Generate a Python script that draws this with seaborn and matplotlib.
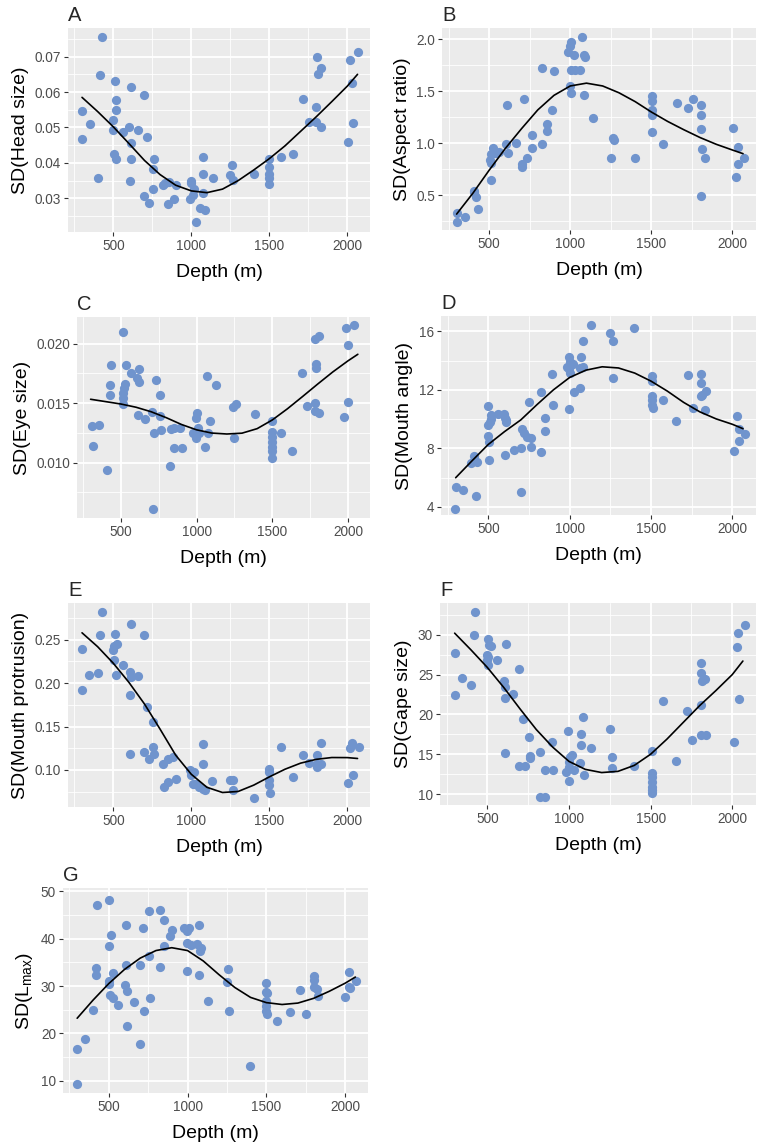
import matplotlib
matplotlib.use('Agg')
import matplotlib.pyplot as plt
import seaborn as sns
from matplotlib.ticker import FormatStrFormatter, MultipleLocator

# ---- data ----
curve_depth = [300, 400, 500, 600, 700, 800, 900, 1000, 1100, 1200, 1300,
               1400, 1500, 1600, 1700, 1800, 1900, 2000, 2065]

# A: head size
a_depth = [300, 302, 350, 400, 428, 415, 510, 520, 520, 500, 500, 505, 515, 560,
           600, 613, 613, 613, 606, 660, 695, 715, 698, 727, 759, 755, 757, 819,
           829, 850, 889, 899, 860, 999, 1000, 990, 1010, 1020, 1027, 1057, 1088,
           1074, 1078, 1074, 1137, 1258, 1248, 1265, 1399, 1500, 1500, 1500, 1500,
           1500, 1573, 1654, 1717, 1753, 1806, 1828, 1810, 1802, 1802, 1828, 2004,
           2019, 2030, 2034, 2068]
a_sd = [0.0547, 0.0467, 0.0511, 0.0356, 0.0755, 0.0648, 0.0632, 0.0577, 0.0549,
        0.0521, 0.0494, 0.0426, 0.0412, 0.0488, 0.0500, 0.0613, 0.0457, 0.0410,
        0.0349, 0.0492, 0.0593, 0.0474, 0.0307, 0.0287, 0.0410, 0.0382, 0.0325,
        0.0337, 0.0343, 0.0283, 0.0298, 0.0337, 0.0346, 0.0349, 0.0343, 0.0297,
        0.0308, 0.0327, 0.0233, 0.0273, 0.0268, 0.0417, 0.0370, 0.0316, 0.0358,
        0.0393, 0.0365, 0.0351, 0.0370, 0.0412, 0.0389, 0.0370, 0.0356, 0.0340,
        0.0417, 0.0426, 0.0579, 0.0516, 0.0698, 0.0667, 0.0651, 0.0557, 0.0516,
        0.0502, 0.0459, 0.0691, 0.0626, 0.0513, 0.0714]
a_curve = [0.0585, 0.0545, 0.0502, 0.0455, 0.0407, 0.0367, 0.0337, 0.0321, 0.0316,
           0.0326, 0.0350, 0.0380, 0.0412, 0.0448, 0.0489, 0.0530, 0.0573, 0.0617,
           0.0650]

# B: aspect ratio
b_depth = [304, 304, 353, 405, 421, 430, 410, 514, 504, 510, 514, 525, 535, 545,
           560, 607, 618, 612, 665, 700, 705, 717, 731, 762, 762, 824, 829, 855,
           860, 890, 903, 986, 1000, 1006, 1006, 1000, 1006, 1021, 1031, 1062, 1072,
           1083, 1093, 1083, 1140, 1254, 1264, 1269, 1399, 1506, 1506, 1506, 1506,
           1502, 1574, 1657, 1723, 1754, 1806, 1806, 1806, 1812, 1833, 1806, 2006,
           2023, 2033, 2033, 2074]
b_sd = [0.247, 0.333, 0.292, 0.545, 0.481, 0.369, 0.535, 0.894, 0.840, 0.647,
        0.808, 0.952, 0.904, 0.910, 0.920, 0.994, 0.904, 1.369, 1.000, 0.776,
        0.800, 1.423, 0.862, 0.958, 1.080, 1.721, 0.994, 1.186, 1.122, 1.321,
        1.689, 1.872, 1.929, 1.968, 1.705, 1.545, 1.487, 1.849, 1.705, 1.699,
        2.020, 1.850, 1.827, 1.465, 1.240, 0.862, 1.054, 1.032, 0.862, 1.458,
        1.410, 1.320, 1.270, 1.112, 0.994, 1.385, 1.337, 1.423, 1.369, 1.269,
        1.138, 0.946, 0.862, 0.497, 1.144, 0.673, 0.798, 0.965, 0.862]
b_curve = [0.32, 0.52, 0.74, 0.95, 1.14, 1.32, 1.46, 1.55, 1.577, 1.55, 1.485,
           1.40, 1.30, 1.21, 1.13, 1.055, 0.99, 0.935, 0.90]

# C: eye size
c_depth = [306, 315, 357, 408, 425, 425, 436, 511, 513, 511, 512, 521, 528, 532,
           570, 609, 617, 619, 613, 662, 703, 709, 720, 730, 758, 758, 762, 826,
           830, 852, 848, 890, 901, 975, 993, 1001, 997, 997, 1012, 1018, 1054,
           1071, 1078, 1086, 1129, 1242, 1257, 1248, 1385, 1500, 1500, 1500, 1500,
           1500, 1500, 1500, 1555, 1632, 1696, 1728, 1779, 1807, 1790, 1786, 1779,
           1779, 1807, 1973, 1988, 2003, 2003, 2042]
c_sd = [0.01307, 0.01137, 0.01313, 0.00939, 0.01651, 0.01567, 0.01816, 0.02098,
        0.01581, 0.01492, 0.01539, 0.01623, 0.01659, 0.01818, 0.01749, 0.01707,
        0.01790, 0.01673, 0.01399, 0.01366, 0.01427, 0.00612, 0.01246, 0.01693,
        0.01567, 0.01391, 0.01274, 0.00975, 0.01282, 0.01288, 0.01120, 0.01293,
        0.01126, 0.01246, 0.01246, 0.01413, 0.01372, 0.01204, 0.01288, 0.01246,
        0.01130, 0.01726, 0.01251, 0.01352, 0.01651, 0.01464, 0.01492, 0.01204,
        0.01411, 0.01349, 0.01260, 0.01176, 0.01101, 0.01036, 0.01218, 0.01134,
        0.01246, 0.01098, 0.01749, 0.01475, 0.02036, 0.02064, 0.01832, 0.01796,
        0.01497, 0.01433, 0.01413, 0.01380, 0.02131, 0.01986, 0.01511, 0.02154]
c_curve = [0.01532, 0.01512, 0.01492, 0.01465, 0.01427, 0.01377, 0.01320, 0.01275,
           0.01248, 0.01240, 0.01247, 0.01285, 0.01358, 0.01452, 0.01555, 0.01660,
           0.01762, 0.01855, 0.01910]

# D: mouth angle
d_depth = [297, 301, 346, 424, 397, 414, 428, 496, 500, 504, 500, 510, 516, 520,
           502, 558, 596, 603, 607, 612, 605, 658, 699, 699, 705, 720, 736, 752,
           761, 763, 824, 824, 849, 849, 890, 900, 983, 997, 1003, 999, 1003, 997,
           1024, 1018, 1061, 1071, 1081, 1065, 1085, 1134, 1250, 1266, 1264, 1397,
           1506, 1506, 1506, 1506, 1506, 1512, 1576, 1654, 1726, 1759, 1810, 1808,
           1808, 1814, 1835, 1831, 2009, 2026, 2040, 2040, 2077]
d_sd = [3.84, 5.34, 5.16, 4.77, 6.98, 7.48, 7.09, 10.91, 8.86, 8.45, 9.59, 9.82,
        10.27, 9.98, 7.20, 10.32, 10.32, 10.09, 9.82, 9.93, 7.55, 7.89, 8.05, 5.05,
        9.36, 9.07, 8.80, 11.14, 8.07, 8.68, 11.86, 7.77, 10.05, 9.20, 13.11,
        11.00, 13.57, 14.25, 13.91, 13.45, 13.18, 10.68, 11.86, 13.80, 12.16,
        14.25, 15.32, 13.50, 13.57, 16.41, 15.89, 15.34, 12.84, 16.23, 12.95,
        12.59, 11.57, 11.30, 10.95, 10.77, 11.34, 9.86, 13.05, 10.73, 13.11, 12.50,
        11.57, 11.64, 11.95, 10.61, 7.84, 10.23, 9.36, 8.50, 8.98]
d_curve = [6.0, 7.15, 8.27, 9.15, 9.95, 11.0, 12.0, 12.85, 13.35, 13.58, 13.5,
           13.15, 12.6, 11.92, 11.15, 10.5, 10.02, 9.65, 9.35]

# E: mouth protrusion
e_depth = [298, 302, 347, 400, 415, 428, 511, 500, 508, 525, 506, 515, 560, 606,
           613, 611, 660, 606, 698, 715, 755, 606, 697, 727, 755, 759, 819, 823,
           850, 850, 882, 899, 993, 1000, 1010, 1020, 1031, 1052, 1074, 1074, 1078,
           1088, 1133, 1248, 1265, 1265, 1399, 1500, 1500, 1500, 1500, 1505, 1573,
           1652, 1717, 1753, 1806, 1808, 1804, 1828, 1830, 2004, 2019, 2030, 2034,
           2072]
e_sd = [0.2388, 0.1922, 0.2095, 0.2122, 0.2558, 0.2820, 0.2569, 0.2384, 0.2423,
        0.2454, 0.2261, 0.2095, 0.2211, 0.2134, 0.2685, 0.2076, 0.2084, 0.1864,
        0.2550, 0.1721, 0.1548, 0.1178, 0.1208, 0.1131, 0.1266, 0.1189, 0.1066,
        0.0804, 0.0862, 0.1131, 0.1151, 0.0900, 0.0997, 0.0939, 0.0842, 0.0977,
        0.0842, 0.0804, 0.0785, 0.1074, 0.1297, 0.0765, 0.0869, 0.0888, 0.0888,
        0.0765, 0.0680, 0.1016, 0.0977, 0.0881, 0.0823, 0.0734, 0.1259, 0.0919,
        0.1170, 0.1081, 0.1170, 0.1074, 0.1035, 0.1305, 0.1074, 0.0854, 0.1255,
        0.1313, 0.0939, 0.1266]
e_curve = [0.258, 0.242, 0.223, 0.201, 0.176, 0.147, 0.117, 0.095, 0.080, 0.0740,
           0.0752, 0.0825, 0.0920, 0.1008, 0.1078, 0.1122, 0.1143, 0.1142, 0.1132]

# F: gape size
f_depth = [299, 301, 346, 399, 424, 416, 504, 510, 525, 500, 506, 500, 504, 558,
           601, 609, 609, 613, 609, 660, 695, 716, 695, 728, 757, 761, 761, 824,
           824, 853, 853, 894, 900, 983, 997, 1003, 999, 1003, 1009, 1020, 1028,
           1071, 1075, 1065, 1085, 1089, 1136, 1250, 1266, 1264, 1399, 1506, 1508,
           1508, 1508, 1506, 1508, 1508, 1578, 1656, 1722, 1756, 1810, 1810, 1814,
           1835, 1810, 1810, 1840, 2013, 2026, 2036, 2040, 2077]
f_sd = [27.69, 22.41, 24.55, 23.75, 32.89, 29.92, 29.50, 28.74, 28.62, 27.48,
        27.19, 26.77, 26.23, 26.81, 24.21, 23.50, 22.03, 28.87, 15.12, 22.58,
        25.68, 19.43, 13.52, 13.48, 17.21, 14.78, 14.49, 15.32, 9.58, 9.58, 13.02,
        16.50, 13.02, 12.81, 17.97, 11.68, 14.07, 13.44, 14.70, 14.91, 13.02,
        17.51, 16.16, 13.86, 19.64, 12.39, 15.74, 18.18, 14.61, 13.23, 13.52,
        15.41, 12.68, 12.18, 11.55, 10.92, 10.50, 10.17, 21.70, 14.15, 20.48,
        16.79, 26.44, 25.26, 24.21, 24.47, 21.19, 17.42, 17.42, 16.58, 28.41,
        30.21, 21.91, 31.22]
f_curve = [30.2, 28.1, 25.9, 23.4, 20.7, 18.1, 15.9, 14.1, 13.1, 12.7, 12.85,
           13.6, 15.0, 16.9, 19.0, 21.1, 23.0, 25.0, 26.7]

# G: maximum length
g_depth = [300, 302, 348, 400, 417, 417, 427, 500, 500, 515, 504, 504, 510, 525,
           525, 561, 602, 608, 608, 613, 613, 661, 698, 698, 717, 727, 755, 755,
           759, 823, 823, 853, 853, 886, 901, 978, 999, 1011, 999, 999, 1022, 1061,
           1074, 1078, 1085, 1074, 1130, 1249, 1259, 1262, 1395, 1499, 1499, 1505,
           1499, 1499, 1499, 1505, 1568, 1652, 1714, 1750, 1802, 1802, 1802, 1819,
           1829, 2002, 2027, 2027, 2033, 2069]
g_sd = [9.30, 16.69, 18.87, 25.00, 33.80, 32.25, 47.18, 48.24, 38.38, 40.85,
        30.99, 30.42, 28.03, 27.46, 32.75, 25.92, 30.28, 42.96, 34.37, 29.01,
        21.62, 26.55, 34.51, 17.75, 42.25, 24.65, 45.92, 36.27, 27.46, 46.13,
        33.94, 44.01, 38.38, 40.49, 41.90, 42.25, 41.55, 42.25, 39.08, 33.24,
        38.73, 38.87, 42.96, 37.32, 37.97, 32.25, 26.76, 30.85, 33.66, 24.65,
        13.03, 30.63, 28.73, 28.52, 26.76, 25.70, 24.79, 24.08, 22.54, 24.51,
        29.23, 24.08, 32.04, 31.34, 29.72, 29.44, 27.82, 27.61, 32.96, 29.72,
        29.58, 31.10]
g_curve = [23.2, 27.0, 30.5, 33.5, 35.9, 37.5, 38.1, 37.5, 35.3, 32.4, 29.7, 27.6,
           26.5, 26.1, 26.4, 27.4, 28.9, 30.6, 31.9]

POINT_COLOR = '#7094CD'

sns.set_theme(style='darkgrid')
plt.rcParams['font.family'] = ['Liberation Sans', 'DejaVu Sans']
plt.rcParams['mathtext.default'] = 'regular'

fig = plt.figure(figsize=(7.57, 11.45), dpi=100)

# (rect, letter, ylabel, x, y, curve, ylim, ytick step, tick format)
panels = [
    ([0.0898, 0.7974, 0.3990, 0.1782], 'A', 'SD(Head size)', a_depth, a_sd, a_curve,
     (0.0205, 0.0781), 0.01, '%.2f'),
    ([0.5839, 0.7991, 0.4148, 0.1764], 'B', 'SD(Aspect ratio)', b_depth, b_sd, b_curve,
     (0.167, 2.106), 0.5, '%.1f'),
    ([0.1017, 0.5476, 0.3870, 0.1755], 'C', 'SD(Eye size)', c_depth, c_sd, c_curve,
     (0.00534, 0.02223), 0.005, '%.3f'),
    ([0.5826, 0.5502, 0.4161, 0.1738], 'D', 'SD(Mouth angle)', d_depth, d_sd, d_curve,
     (3.45, 17.05), 4, '%d'),
    ([0.0898, 0.2952, 0.3990, 0.1782], 'E', 'SD(Mouth protrusion)', e_depth, e_sd, e_curve,
     (0.0573, 0.2924), 0.05, '%.2f'),
    ([0.5812, 0.2969, 0.4174, 0.1764], 'F', 'SD(Gape size)', f_depth, f_sd, f_curve,
     (8.62, 33.98), 5, '%d'),
    ([0.0832, 0.0454, 0.4029, 0.1790], 'G', 'SD(L$_{max}$)', g_depth, g_sd, g_curve,
     (7.4, 50.7), 10, '%d'),
]

for rect, letter, ylab, xs, ys, curve, ylim, step, fmt in panels:
    ax = fig.add_axes(rect)
    ax.set_facecolor('#EBEBEB')
    sns.scatterplot(x=xs, y=ys, ax=ax, color=POINT_COLOR, s=44, linewidth=0, zorder=3)
    sns.lineplot(x=curve_depth, y=curve, ax=ax, color='black', linewidth=1.2, zorder=4)

    ax.set_xlim(210, 2145)
    ax.set_ylim(*ylim)
    ax.xaxis.set_major_locator(MultipleLocator(500))
    ax.xaxis.set_minor_locator(MultipleLocator(250))
    ax.yaxis.set_major_locator(MultipleLocator(step))
    ax.yaxis.set_minor_locator(MultipleLocator(step / 2))
    ax.yaxis.set_major_formatter(FormatStrFormatter(fmt))

    ax.grid(which='major', color='white', linewidth=1.3)
    ax.grid(which='minor', color='white', linewidth=0.6)
    ax.set_axisbelow(True)
    for sp in ax.spines.values():
        sp.set_visible(False)
    ax.tick_params(which='major', length=3, width=0.8, color='#333333',
                   labelcolor='#4D4D4D', labelsize=9.8, pad=2, bottom=True, left=True)
    ax.tick_params(which='minor', length=0)

    ax.set_xlabel('Depth (m)', fontsize=14, labelpad=8, color='black')
    ax.set_ylabel(ylab, fontsize=14, labelpad=4, color='black')
    ax.set_title(letter, loc='left', fontsize=14.5, pad=5)

fig.savefig('out.png', dpi=100, facecolor='white')
